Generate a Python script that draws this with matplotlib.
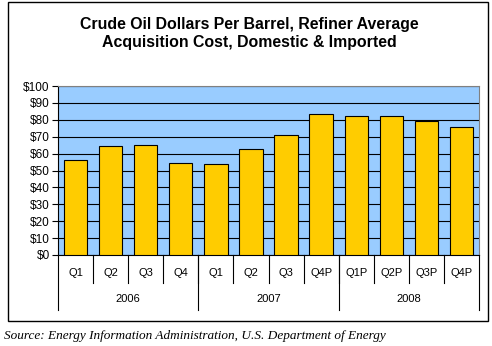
import matplotlib
matplotlib.use("Agg")
import matplotlib.pyplot as plt
from matplotlib.patches import Rectangle
import matplotlib.transforms as mtransforms

quarters = ["Q1", "Q2", "Q3", "Q4", "Q1", "Q2", "Q3", "Q4P", "Q1P", "Q2P", "Q3P", "Q4P"]
years = ["2006", "2007", "2008"]
year_counts = [4, 4, 4]
prices = [56.0, 64.3, 64.9, 54.2, 53.6, 62.5, 70.8, 83.2, 82.1, 82.1, 79.3, 75.5]
yticks = [0, 10, 20, 30, 40, 50, 60, 70, 80, 90, 100]
ytick_labels = ["$" + str(v) for v in yticks]

plt.rcParams["font.family"] = ["Liberation Sans", "DejaVu Sans"]

W, H = 492, 346
fig = plt.figure(figsize=(W / 100, H / 100), dpi=100)

# outer frame
fig.patches.append(Rectangle((8 / W, 1 - 321 / H), 480 / W, 319 / H, transform=fig.transFigure,
                             fill=False, edgecolor="black", linewidth=1.0, zorder=0))

left, right, top, bottom = 58, 479, 86, 255
ax = fig.add_axes([left / W, 1 - bottom / H, (right - left) / W, (bottom - top) / H])
ax.set_facecolor("#99CCFF")

x = list(range(len(prices)))
ax.bar(x, prices, width=0.667, color="#FFCC00", edgecolor="black", linewidth=0.8, zorder=3)
ax.set_xlim(-0.5, len(prices) - 0.5)
ax.set_ylim(0, 100)
ax.set_yticks(yticks)
ax.set_yticklabels(ytick_labels, fontsize=8.5)
ax.yaxis.grid(True, color="black", linewidth=0.8, zorder=1)
ax.set_axisbelow(True)
ax.tick_params(axis="y", length=4, width=0.8, pad=2, color="black")
ax.set_xticks([])

for s in ["top", "right"]:
    ax.spines[s].set_color("#808080")
    ax.spines[s].set_linewidth(0.8)
for s in ["left", "bottom"]:
    ax.spines[s].set_color("black")
    ax.spines[s].set_linewidth(0.8)

trans = mtransforms.blended_transform_factory(ax.transData, ax.transAxes)
# quarter labels and separators
for i, q in enumerate(quarters):
    ax.text(i, -0.105, q, transform=trans, ha="center", va="center", fontsize=8)
for b in range(1, len(quarters)):
    ax.plot([b - 0.5, b - 0.5], [0, -0.164], transform=trans, color="black",
            linewidth=0.8, clip_on=False)
# year labels and separators
start = 0
bounds = [-0.5]
for yr, n in zip(years, year_counts):
    ax.text(start + (n - 1) / 2, -0.26, yr, transform=trans, ha="center", va="center", fontsize=8)
    start += n
    bounds.append(start - 0.5)
for b in bounds:
    ax.plot([b, b], [0, -0.325], transform=trans, color="black", linewidth=0.8, clip_on=False)

fig.text(249 / W, 1 - 33.5 / H, "Crude Oil Dollars Per Barrel, Refiner Average\nAcquisition Cost, Domestic & Imported",
         ha="center", va="center", fontsize=11.4, fontweight="bold", linespacing=1.25)

fig.text(4 / W, 1 - 336 / H, "Source: Energy Information Administration, U.S. Department of Energy",
         ha="left", va="center", fontsize=9.5, style="italic",
         family=["Liberation Serif", "DejaVu Serif"])

fig.savefig("out.png", dpi=100)
